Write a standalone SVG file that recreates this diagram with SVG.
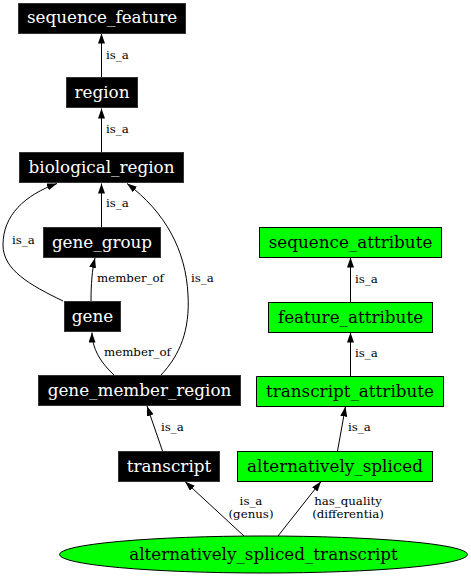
<svg xmlns="http://www.w3.org/2000/svg" width="471" height="576" viewBox="0 0 471 576">
<defs>
<style>
.bn rect{fill:#000;stroke:#333;stroke-width:1}
.gn rect,.gn ellipse{fill:#00ff00;stroke:#000;stroke-width:1}
.bn text{fill:#fff;font-family:"DejaVu Serif",serif;font-size:16.8px;text-anchor:middle}
.gn text{fill:#000;font-family:"DejaVu Serif",serif;font-size:16.8px;text-anchor:middle}
.e path{fill:none;stroke:#000;stroke-width:1;marker-end:url(#ah)}
.e text{fill:#000;font-family:"DejaVu Serif",serif;font-size:11.8px}
.e text.m{text-anchor:middle}
</style>
<marker id="ah" markerUnits="userSpaceOnUse" markerWidth="10" markerHeight="8" refX="10" refY="3.5" orient="auto">
<path d="M0,0 L10,3.5 L0,7 z" fill="#000"/>
</marker>
</defs>
<rect width="471" height="576" fill="#fff"/>
<g id="edges" class="e">
<path d="M101.5,77 L101.5,33.5"/>
<text x="106" y="59">is_a</text>
<path d="M101.5,152 L101.5,108.5"/>
<text x="106" y="133">is_a</text>
<path d="M101.5,227 L101.5,183.5"/>
<text x="106" y="207">is_a</text>
<path d="M63,301 C30,285 3,270 3,245 C3,215 25,195 57,183.5"/>
<text x="12" y="244">is_a</text>
<path d="M91,301 C91,285 92,270 95,258"/>
<text x="97" y="282">member_of</text>
<path d="M114,375 C100,362 92,348 92,332.5"/>
<text x="104" y="356">member_of</text>
<path d="M161,375 C180,355 190,330 188,295 C186,250 165,212 127,183.5"/>
<text x="191" y="282">is_a</text>
<path d="M162.5,451 L147,406"/>
<text x="161" y="431">is_a</text>
<path d="M337.5,451 L345.5,406.5"/>
<text x="348" y="431">is_a</text>
<path d="M244,536 L185,481.5"/>
<text class="m" x="251" y="505">is_a</text>
<text class="m" x="251" y="518">(genus)</text>
<path d="M278,536 L321,481.5"/>
<text class="m" x="348" y="505">has_quality</text>
<text class="m" x="348" y="518">(differentia)</text>
<path d="M350.5,302 L350.5,257.5"/>
<text x="355" y="283">is_a</text>
<path d="M350.5,376 L350.5,332.5"/>
<text x="355" y="357">is_a</text>
</g>
<g id="sequence_feature" class="bn"><rect x="18.5" y="3.5" width="167" height="30"/><text x="102" y="23">sequence_feature</text></g>
<g id="region" class="bn"><rect x="66.5" y="77.5" width="71" height="30"/><text x="102" y="97.5">region</text></g>
<g id="biological_region" class="bn"><rect x="19.5" y="152.5" width="164" height="30"/><text x="101.5" y="172.5">biological_region</text></g>
<g id="gene_group" class="bn"><rect x="43.5" y="227.5" width="117" height="30"/><text x="102" y="247.5">gene_group</text></g>
<g id="gene" class="bn"><rect x="64.5" y="301.5" width="56" height="30"/><text x="92.5" y="321.5">gene</text></g>
<g id="gene_member_region" class="bn"><rect x="38.5" y="375.5" width="202" height="30"/><text x="139.5" y="395.5">gene_member_region</text></g>
<g id="transcript" class="bn"><rect x="118.5" y="451.5" width="101" height="30"/><text x="169" y="471.5">transcript</text></g>
<g id="alternatively_spliced" class="gn"><rect x="237.5" y="451.5" width="195" height="30"/><text x="335" y="471.5">alternatively_spliced</text></g>
<g id="sequence_attribute" class="gn"><rect x="259.5" y="227.5" width="182" height="30"/><text x="350.5" y="247.5">sequence_attribute</text></g>
<g id="feature_attribute" class="gn"><rect x="268.5" y="302.5" width="164" height="30"/><text x="350.5" y="322.5">feature_attribute</text></g>
<g id="transcript_attribute" class="gn"><rect x="256.5" y="376.5" width="187" height="30"/><text x="350" y="396.5">transcript_attribute</text></g>
<g id="alternatively_spliced_transcript" class="gn"><ellipse cx="263.5" cy="554.5" rx="204" ry="18.5"/><text x="263.5" y="559.5">alternatively_spliced_transcript</text></g>
</svg>
